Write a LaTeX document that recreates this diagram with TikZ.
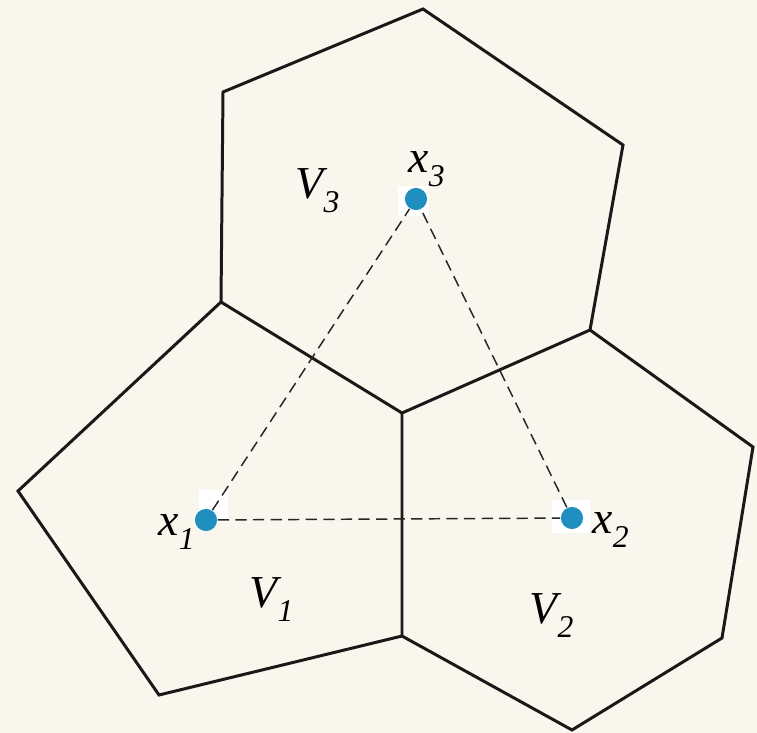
\documentclass[tikz,border=0pt]{standalone}
\usepackage{fontspec}
\setmainfont{Liberation Serif}
\definecolor{paper}{HTML}{F9F6EE}
\definecolor{siteblue}{HTML}{1F8FC0}
\tikzset{
  cell/.style={
    draw=black!90,
    line width=0.85pt,
    line join=miter
  },
  site/.style={
    shape=circle,
    fill=siteblue,
    inner sep=0pt,
    minimum size=6.3pt
  },
  link/.style={
    draw=black!85,
    line width=0.42pt,
    dash pattern=on 3.2pt off 1.8pt
  },
  lbl/.style={
    font=\fontsize{13}{14}\selectfont\itshape,
    inner sep=0pt,
    anchor=base west
  }
}
\newcommand{\sublbl}[2]{#1\raisebox{-4pt}{\fontsize{9}{9}\selectfont #2}}

\begin{document}
\begin{tikzpicture}[x=0.01cm,y=-0.01cm]
  \fill[paper] (0,0) rectangle (757,733);
  \useasboundingbox (0,0) rectangle (757,733);
  % cells
  \draw[cell] (221,302) -- (223,92) -- (423,9) -- (623,145) -- (590,330) -- (402,413) -- cycle;
  \draw[cell] (221,302) -- (18,491) -- (159,695) -- (402,636) -- (402,413);
  \draw[cell] (590,330) -- (753,447) -- (722,638) -- (572,730) -- (402,636);
  % white patches under the sites
  \fill[white] (199,490) rectangle (228,523);
  \fill[white] (552,500) rectangle (590,533);
  \fill[white] (398,186) rectangle (429,216);
  % sites
  \node[site] (s1) at (206,520) {};
  \node[site] (s2) at (572,518) {};
  \node[site] (s3) at (416,199) {};
  \draw[link] (s1) -- (s2);
  \draw[link] (s1) -- (s3);
  \draw[link] (s2) -- (s3);
  % labels
  \node[lbl] (lx1) at (158,535) {\sublbl{x}{1}};
  \node[lbl] (lx2) at (592,533) {\sublbl{x}{2}};
  \node[lbl] (lx3) at (408,172) {\sublbl{x}{3}};
  \node[lbl] (lv1) at (249,607) {\sublbl{V}{1}};
  \node[lbl] (lv2) at (529,623) {\sublbl{V}{2}};
  \node[lbl] (lv3) at (295,198) {\sublbl{V}{3}};
\end{tikzpicture}
\end{document}
